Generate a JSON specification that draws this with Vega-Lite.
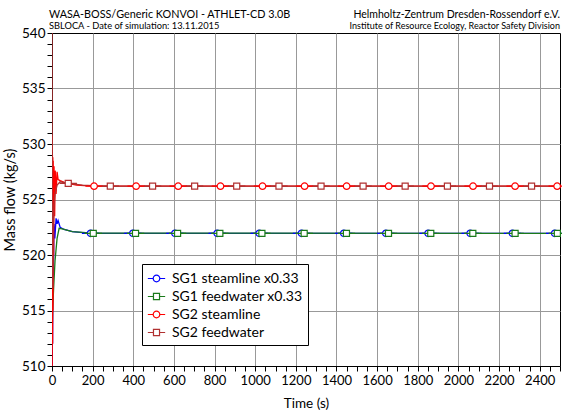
{
  "$schema": "https://vega.github.io/schema/vega-lite/v6.json",
  "width": 508,
  "height": 333,
  "autosize": {"type": "none"},
  "padding": {"left": 52, "top": 33, "right": 2, "bottom": 46},
  "datasets": {
    "lines": [
      {"s": "SG1 steamline x0.33", "t": 0, "v": 509},
      {"s": "SG1 steamline x0.33", "t": 1, "v": 515},
      {"s": "SG1 steamline x0.33", "t": 2, "v": 521},
      {"s": "SG1 steamline x0.33", "t": 3, "v": 512},
      {"s": "SG1 steamline x0.33", "t": 5, "v": 521.5},
      {"s": "SG1 steamline x0.33", "t": 7, "v": 518},
      {"s": "SG1 steamline x0.33", "t": 10, "v": 522.8},
      {"s": "SG1 steamline x0.33", "t": 14, "v": 521.5},
      {"s": "SG1 steamline x0.33", "t": 20, "v": 523.3},
      {"s": "SG1 steamline x0.33", "t": 25, "v": 522.8},
      {"s": "SG1 steamline x0.33", "t": 30, "v": 523.1},
      {"s": "SG1 steamline x0.33", "t": 40, "v": 522.5},
      {"s": "SG1 steamline x0.33", "t": 60, "v": 522.3},
      {"s": "SG1 steamline x0.33", "t": 100, "v": 522.1},
      {"s": "SG1 steamline x0.33", "t": 190, "v": 521.95},
      {"s": "SG1 steamline x0.33", "t": 2500, "v": 521.95},
      {"s": "SG1 feedwater x0.33", "t": 0, "v": 512},
      {"s": "SG1 feedwater x0.33", "t": 3, "v": 515},
      {"s": "SG1 feedwater x0.33", "t": 8, "v": 517},
      {"s": "SG1 feedwater x0.33", "t": 15, "v": 519.5},
      {"s": "SG1 feedwater x0.33", "t": 25, "v": 521.5},
      {"s": "SG1 feedwater x0.33", "t": 35, "v": 522.4},
      {"s": "SG1 feedwater x0.33", "t": 50, "v": 522.35},
      {"s": "SG1 feedwater x0.33", "t": 100, "v": 522.1},
      {"s": "SG1 feedwater x0.33", "t": 200, "v": 521.97},
      {"s": "SG1 feedwater x0.33", "t": 2500, "v": 521.95},
      {"s": "SG2 steamline", "t": 0, "v": 530.8},
      {"s": "SG2 steamline", "t": 1, "v": 510},
      {"s": "SG2 steamline", "t": 2, "v": 529},
      {"s": "SG2 steamline", "t": 3, "v": 512},
      {"s": "SG2 steamline", "t": 4, "v": 528.8},
      {"s": "SG2 steamline", "t": 5, "v": 515},
      {"s": "SG2 steamline", "t": 6, "v": 528.5},
      {"s": "SG2 steamline", "t": 8, "v": 520},
      {"s": "SG2 steamline", "t": 10, "v": 528},
      {"s": "SG2 steamline", "t": 13, "v": 523.5},
      {"s": "SG2 steamline", "t": 16, "v": 527.6},
      {"s": "SG2 steamline", "t": 20, "v": 525.5},
      {"s": "SG2 steamline", "t": 25, "v": 527.5},
      {"s": "SG2 steamline", "t": 30, "v": 526.8},
      {"s": "SG2 steamline", "t": 40, "v": 526.7},
      {"s": "SG2 steamline", "t": 60, "v": 526.55},
      {"s": "SG2 steamline", "t": 80, "v": 526.45},
      {"s": "SG2 steamline", "t": 120, "v": 526.3},
      {"s": "SG2 steamline", "t": 200, "v": 526.2},
      {"s": "SG2 steamline", "t": 2500, "v": 526.2},
      {"s": "SG2 feedwater", "t": 0, "v": 545},
      {"s": "SG2 feedwater", "t": 1, "v": 527},
      {"s": "SG2 feedwater", "t": 2, "v": 523},
      {"s": "SG2 feedwater", "t": 4, "v": 517},
      {"s": "SG2 feedwater", "t": 6, "v": 522},
      {"s": "SG2 feedwater", "t": 10, "v": 524.5},
      {"s": "SG2 feedwater", "t": 15, "v": 525.5},
      {"s": "SG2 feedwater", "t": 25, "v": 526.3},
      {"s": "SG2 feedwater", "t": 40, "v": 526.6},
      {"s": "SG2 feedwater", "t": 80, "v": 526.45},
      {"s": "SG2 feedwater", "t": 150, "v": 526.3},
      {"s": "SG2 feedwater", "t": 250, "v": 526.2},
      {"s": "SG2 feedwater", "t": 2500, "v": 526.2}
    ],
    "markers": [
      {"s": "SG1 steamline x0.33", "t": 190, "v": 521.95},
      {"s": "SG1 steamline x0.33", "t": 398, "v": 521.95},
      {"s": "SG1 steamline x0.33", "t": 605, "v": 521.95},
      {"s": "SG1 steamline x0.33", "t": 813, "v": 521.95},
      {"s": "SG1 steamline x0.33", "t": 1020, "v": 521.95},
      {"s": "SG1 steamline x0.33", "t": 1228, "v": 521.95},
      {"s": "SG1 steamline x0.33", "t": 1436, "v": 521.95},
      {"s": "SG1 steamline x0.33", "t": 1643, "v": 521.95},
      {"s": "SG1 steamline x0.33", "t": 1851, "v": 521.95},
      {"s": "SG1 steamline x0.33", "t": 2058, "v": 521.95},
      {"s": "SG1 steamline x0.33", "t": 2266, "v": 521.95},
      {"s": "SG1 steamline x0.33", "t": 2474, "v": 521.95},
      {"s": "SG1 feedwater x0.33", "t": 203, "v": 521.95},
      {"s": "SG1 feedwater x0.33", "t": 411, "v": 521.95},
      {"s": "SG1 feedwater x0.33", "t": 618, "v": 521.95},
      {"s": "SG1 feedwater x0.33", "t": 826, "v": 521.95},
      {"s": "SG1 feedwater x0.33", "t": 1033, "v": 521.95},
      {"s": "SG1 feedwater x0.33", "t": 1241, "v": 521.95},
      {"s": "SG1 feedwater x0.33", "t": 1449, "v": 521.95},
      {"s": "SG1 feedwater x0.33", "t": 1656, "v": 521.95},
      {"s": "SG1 feedwater x0.33", "t": 1864, "v": 521.95},
      {"s": "SG1 feedwater x0.33", "t": 2071, "v": 521.95},
      {"s": "SG1 feedwater x0.33", "t": 2279, "v": 521.95},
      {"s": "SG1 feedwater x0.33", "t": 2487, "v": 521.95},
      {"s": "SG2 steamline", "t": 207, "v": 526.2},
      {"s": "SG2 steamline", "t": 414, "v": 526.2},
      {"s": "SG2 steamline", "t": 621, "v": 526.2},
      {"s": "SG2 steamline", "t": 829, "v": 526.2},
      {"s": "SG2 steamline", "t": 1036, "v": 526.2},
      {"s": "SG2 steamline", "t": 1243, "v": 526.2},
      {"s": "SG2 steamline", "t": 1450, "v": 526.2},
      {"s": "SG2 steamline", "t": 1657, "v": 526.2},
      {"s": "SG2 steamline", "t": 1865, "v": 526.2},
      {"s": "SG2 steamline", "t": 2072, "v": 526.2},
      {"s": "SG2 steamline", "t": 2279, "v": 526.2},
      {"s": "SG2 steamline", "t": 2486, "v": 526.2},
      {"s": "SG2 feedwater", "t": 80, "v": 526.45},
      {"s": "SG2 feedwater", "t": 287, "v": 526.2},
      {"s": "SG2 feedwater", "t": 495, "v": 526.2},
      {"s": "SG2 feedwater", "t": 702, "v": 526.2},
      {"s": "SG2 feedwater", "t": 909, "v": 526.2},
      {"s": "SG2 feedwater", "t": 1117, "v": 526.2},
      {"s": "SG2 feedwater", "t": 1324, "v": 526.2},
      {"s": "SG2 feedwater", "t": 1531, "v": 526.2},
      {"s": "SG2 feedwater", "t": 1738, "v": 526.2},
      {"s": "SG2 feedwater", "t": 1946, "v": 526.2},
      {"s": "SG2 feedwater", "t": 2153, "v": 526.2},
      {"s": "SG2 feedwater", "t": 2360, "v": 526.2}
    ],
    "headerL1": [{"label": "WASA-BOSS/Generic KONVOI - ATHLET-CD 3.0B"}],
    "headerL2": [{"label": "SBLOCA - Date of simulation: 13.11.2015"}],
    "headerR1": [{"label": "Helmholtz-Zentrum Dresden-Rossendorf e.V."}],
    "headerR2": [{"label": "Institute of Resource Ecology, Reactor Safety Division"}]
  },
  "layer": [
    {
      "data": {"name": "lines"},
      "mark": {"type": "line", "strokeWidth": 1.3, "clip": true},
      "encoding": {
        "x": {
          "field": "t", "type": "quantitative", "title": "Time (s)",
          "scale": {"domain": [0, 2500], "nice": false, "zero": false},
          "axis": {
            "values": [0,50,100,150,200,250,300,350,400,450,500,550,600,650,700,750,800,850,900,950,1000,1050,1100,1150,1200,1250,1300,1350,1400,1450,1500,1550,1600,1650,1700,1750,1800,1850,1900,1950,2000,2050,2100,2150,2200,2250,2300,2350,2400,2450,2500],
            "format": "d",
            "labelExpr": "datum.value % 200 === 0 ? datum.label : ''",
            "labelOverlap": false, "labelFlush": false, "grid": true, "gridColor": "#999999",
            "gridOpacity": {"condition": {"test": "datum.value % 200 === 0 && datum.value > 0", "value": 1}, "value": 0},
            "tickSize": 5, "tickColor": "black", "domainColor": "black",
            "labelFontSize": 13, "labelPadding": 3, "titleFontSize": 13.5, "titlePadding": 9,
            "encode": {"ticks": {"y2": {"condition": {"test": "datum.value % 200 === 0", "value": -5}, "value": -3}}}
          }
        },
        "y": {
          "field": "v", "type": "quantitative", "title": "Mass flow (kg/s)",
          "scale": {"domain": [510, 540], "nice": false, "zero": false},
          "axis": {
            "values": [510,511,512,513,514,515,516,517,518,519,520,521,522,523,524,525,526,527,528,529,530,531,532,533,534,535,536,537,538,539,540],
            "labelExpr": "datum.value % 5 === 0 ? datum.label : ''",
            "grid": true, "gridColor": "#999999",
            "gridOpacity": {"condition": {"test": "datum.value % 5 === 0 && datum.value > 510 && datum.value < 540", "value": 1}, "value": 0},
            "tickSize": 5, "tickColor": "black", "domainColor": "black",
            "labelFontSize": 13.5, "labelPadding": 2, "titleFontSize": 14.5, "titlePadding": 4,
            "encode": {"ticks": {"x2": {"condition": {"test": "datum.value % 5 === 0", "value": -5}, "value": -3}}}
          }
        },
        "color": {
          "field": "s",
          "type": "nominal",
          "scale": {
            "domain": ["SG1 steamline x0.33", "SG1 feedwater x0.33", "SG2 steamline", "SG2 feedwater"],
            "range": ["#0000ff", "#1a7a1a", "#ff0000", "#b03030"]
          },
          "legend": {
            "orient": "none", "legendX": 90, "legendY": 231, "title": null,
            "strokeColor": "black", "fillColor": "white", "padding": 5,
            "labelFontSize": 14, "labelColor": "black", "symbolSize": 300, "symbolStrokeWidth": 1.2,
            "rowPadding": 1, "labelOffset": 6, "cornerRadius": 0
          }
        }
      }
    },
    {
      "data": {"name": "markers"},
      "mark": {"type": "point", "filled": false, "fill": "white", "size": 300, "strokeWidth": 1.2, "opacity": 1},
      "encoding": {
        "x": {
          "field": "t", "type": "quantitative", "title": "Time (s)",
          "scale": {"domain": [0, 2500], "nice": false, "zero": false},
          "axis": {
            "values": [0,50,100,150,200,250,300,350,400,450,500,550,600,650,700,750,800,850,900,950,1000,1050,1100,1150,1200,1250,1300,1350,1400,1450,1500,1550,1600,1650,1700,1750,1800,1850,1900,1950,2000,2050,2100,2150,2200,2250,2300,2350,2400,2450,2500],
            "format": "d",
            "labelExpr": "datum.value % 200 === 0 ? datum.label : ''",
            "labelOverlap": false, "labelFlush": false, "grid": true, "gridColor": "#999999",
            "gridOpacity": {"condition": {"test": "datum.value % 200 === 0 && datum.value > 0", "value": 1}, "value": 0},
            "tickSize": 5, "tickColor": "black", "domainColor": "black",
            "labelFontSize": 13, "labelPadding": 3, "titleFontSize": 13.5, "titlePadding": 9,
            "encode": {"ticks": {"y2": {"condition": {"test": "datum.value % 200 === 0", "value": -5}, "value": -3}}}
          }
        },
        "y": {
          "field": "v", "type": "quantitative", "title": "Mass flow (kg/s)",
          "scale": {"domain": [510, 540], "nice": false, "zero": false},
          "axis": {
            "values": [510,511,512,513,514,515,516,517,518,519,520,521,522,523,524,525,526,527,528,529,530,531,532,533,534,535,536,537,538,539,540],
            "labelExpr": "datum.value % 5 === 0 ? datum.label : ''",
            "grid": true, "gridColor": "#999999",
            "gridOpacity": {"condition": {"test": "datum.value % 5 === 0 && datum.value > 510 && datum.value < 540", "value": 1}, "value": 0},
            "tickSize": 5, "tickColor": "black", "domainColor": "black",
            "labelFontSize": 13.5, "labelPadding": 2, "titleFontSize": 14.5, "titlePadding": 4,
            "encode": {"ticks": {"x2": {"condition": {"test": "datum.value % 5 === 0", "value": -5}, "value": -3}}}
          }
        },
        "color": {"field": "s", "type": "nominal", "legend": null},
        "shape": {
          "field": "s",
          "type": "nominal",
          "scale": {
            "domain": ["SG1 steamline x0.33", "SG1 feedwater x0.33", "SG2 steamline", "SG2 feedwater"],
            "range": [
              "M-1,0H-0.38M0.38,0H1M-0.38,0A0.38,0.38,0,1,0,0.38,0A0.38,0.38,0,1,0,-0.38,0Z",
              "M-1,0H-0.35M0.35,0H1M-0.35,-0.35H0.35V0.35H-0.35Z",
              "M-1,0H-0.38M0.38,0H1M-0.38,0A0.38,0.38,0,1,0,0.38,0A0.38,0.38,0,1,0,-0.38,0Z",
              "M-1,0H-0.35M0.35,0H1M-0.35,-0.35H0.35V0.35H-0.35Z"
            ]
          },
          "legend": null
        }
      }
    },
    {
      "data": {"name": "headerL1"},
      "mark": {"type": "text", "align": "left", "baseline": "middle", "fontSize": 10.8, "font": "Lato", "fill": "black", "clip": false},
      "encoding": {
        "x": {
          "datum": -15, "type": "quantitative", "title": "Time (s)",
          "scale": {"domain": [0, 2500], "nice": false, "zero": false},
          "axis": {
            "values": [0,50,100,150,200,250,300,350,400,450,500,550,600,650,700,750,800,850,900,950,1000,1050,1100,1150,1200,1250,1300,1350,1400,1450,1500,1550,1600,1650,1700,1750,1800,1850,1900,1950,2000,2050,2100,2150,2200,2250,2300,2350,2400,2450,2500],
            "format": "d",
            "labelExpr": "datum.value % 200 === 0 ? datum.label : ''",
            "labelOverlap": false, "labelFlush": false, "grid": true, "gridColor": "#999999",
            "gridOpacity": {"condition": {"test": "datum.value % 200 === 0 && datum.value > 0", "value": 1}, "value": 0},
            "tickSize": 5, "tickColor": "black", "domainColor": "black",
            "labelFontSize": 13, "labelPadding": 3, "titleFontSize": 13.5, "titlePadding": 9,
            "encode": {"ticks": {"y2": {"condition": {"test": "datum.value % 200 === 0", "value": -5}, "value": -3}}}
          }
        },
        "y": {
          "datum": 541.6, "type": "quantitative", "title": "Mass flow (kg/s)",
          "scale": {"domain": [510, 540], "nice": false, "zero": false},
          "axis": {
            "values": [510,511,512,513,514,515,516,517,518,519,520,521,522,523,524,525,526,527,528,529,530,531,532,533,534,535,536,537,538,539,540],
            "labelExpr": "datum.value % 5 === 0 ? datum.label : ''",
            "grid": true, "gridColor": "#999999",
            "gridOpacity": {"condition": {"test": "datum.value % 5 === 0 && datum.value > 510 && datum.value < 540", "value": 1}, "value": 0},
            "tickSize": 5, "tickColor": "black", "domainColor": "black",
            "labelFontSize": 13.5, "labelPadding": 2, "titleFontSize": 14.5, "titlePadding": 4,
            "encode": {"ticks": {"x2": {"condition": {"test": "datum.value % 5 === 0", "value": -5}, "value": -3}}}
          }
        },
        "text": {"field": "label"}
      }
    },
    {
      "data": {"name": "headerL2"},
      "mark": {"type": "text", "align": "left", "baseline": "middle", "fontSize": 9.3, "font": "Lato", "fill": "black", "clip": false},
      "encoding": {
        "x": {
          "datum": -15, "type": "quantitative", "title": "Time (s)",
          "scale": {"domain": [0, 2500], "nice": false, "zero": false},
          "axis": {
            "values": [0,50,100,150,200,250,300,350,400,450,500,550,600,650,700,750,800,850,900,950,1000,1050,1100,1150,1200,1250,1300,1350,1400,1450,1500,1550,1600,1650,1700,1750,1800,1850,1900,1950,2000,2050,2100,2150,2200,2250,2300,2350,2400,2450,2500],
            "format": "d",
            "labelExpr": "datum.value % 200 === 0 ? datum.label : ''",
            "labelOverlap": false, "labelFlush": false, "grid": true, "gridColor": "#999999",
            "gridOpacity": {"condition": {"test": "datum.value % 200 === 0 && datum.value > 0", "value": 1}, "value": 0},
            "tickSize": 5, "tickColor": "black", "domainColor": "black",
            "labelFontSize": 13, "labelPadding": 3, "titleFontSize": 13.5, "titlePadding": 9,
            "encode": {"ticks": {"y2": {"condition": {"test": "datum.value % 200 === 0", "value": -5}, "value": -3}}}
          }
        },
        "y": {
          "datum": 540.6, "type": "quantitative", "title": "Mass flow (kg/s)",
          "scale": {"domain": [510, 540], "nice": false, "zero": false},
          "axis": {
            "values": [510,511,512,513,514,515,516,517,518,519,520,521,522,523,524,525,526,527,528,529,530,531,532,533,534,535,536,537,538,539,540],
            "labelExpr": "datum.value % 5 === 0 ? datum.label : ''",
            "grid": true, "gridColor": "#999999",
            "gridOpacity": {"condition": {"test": "datum.value % 5 === 0 && datum.value > 510 && datum.value < 540", "value": 1}, "value": 0},
            "tickSize": 5, "tickColor": "black", "domainColor": "black",
            "labelFontSize": 13.5, "labelPadding": 2, "titleFontSize": 14.5, "titlePadding": 4,
            "encode": {"ticks": {"x2": {"condition": {"test": "datum.value % 5 === 0", "value": -5}, "value": -3}}}
          }
        },
        "text": {"field": "label"}
      }
    },
    {
      "data": {"name": "headerR1"},
      "mark": {"type": "text", "align": "right", "baseline": "middle", "fontSize": 10.5, "font": "Lato", "fill": "black", "clip": false},
      "encoding": {
        "x": {
          "datum": 2500, "type": "quantitative", "title": "Time (s)",
          "scale": {"domain": [0, 2500], "nice": false, "zero": false},
          "axis": {
            "values": [0,50,100,150,200,250,300,350,400,450,500,550,600,650,700,750,800,850,900,950,1000,1050,1100,1150,1200,1250,1300,1350,1400,1450,1500,1550,1600,1650,1700,1750,1800,1850,1900,1950,2000,2050,2100,2150,2200,2250,2300,2350,2400,2450,2500],
            "format": "d",
            "labelExpr": "datum.value % 200 === 0 ? datum.label : ''",
            "labelOverlap": false, "labelFlush": false, "grid": true, "gridColor": "#999999",
            "gridOpacity": {"condition": {"test": "datum.value % 200 === 0 && datum.value > 0", "value": 1}, "value": 0},
            "tickSize": 5, "tickColor": "black", "domainColor": "black",
            "labelFontSize": 13, "labelPadding": 3, "titleFontSize": 13.5, "titlePadding": 9,
            "encode": {"ticks": {"y2": {"condition": {"test": "datum.value % 200 === 0", "value": -5}, "value": -3}}}
          }
        },
        "y": {
          "datum": 541.6, "type": "quantitative", "title": "Mass flow (kg/s)",
          "scale": {"domain": [510, 540], "nice": false, "zero": false},
          "axis": {
            "values": [510,511,512,513,514,515,516,517,518,519,520,521,522,523,524,525,526,527,528,529,530,531,532,533,534,535,536,537,538,539,540],
            "labelExpr": "datum.value % 5 === 0 ? datum.label : ''",
            "grid": true, "gridColor": "#999999",
            "gridOpacity": {"condition": {"test": "datum.value % 5 === 0 && datum.value > 510 && datum.value < 540", "value": 1}, "value": 0},
            "tickSize": 5, "tickColor": "black", "domainColor": "black",
            "labelFontSize": 13.5, "labelPadding": 2, "titleFontSize": 14.5, "titlePadding": 4,
            "encode": {"ticks": {"x2": {"condition": {"test": "datum.value % 5 === 0", "value": -5}, "value": -3}}}
          }
        },
        "text": {"field": "label"}
      }
    },
    {
      "data": {"name": "headerR2"},
      "mark": {"type": "text", "align": "right", "baseline": "middle", "fontSize": 9, "font": "Lato", "fill": "black", "clip": false},
      "encoding": {
        "x": {
          "datum": 2500, "type": "quantitative", "title": "Time (s)",
          "scale": {"domain": [0, 2500], "nice": false, "zero": false},
          "axis": {
            "values": [0,50,100,150,200,250,300,350,400,450,500,550,600,650,700,750,800,850,900,950,1000,1050,1100,1150,1200,1250,1300,1350,1400,1450,1500,1550,1600,1650,1700,1750,1800,1850,1900,1950,2000,2050,2100,2150,2200,2250,2300,2350,2400,2450,2500],
            "format": "d",
            "labelExpr": "datum.value % 200 === 0 ? datum.label : ''",
            "labelOverlap": false, "labelFlush": false, "grid": true, "gridColor": "#999999",
            "gridOpacity": {"condition": {"test": "datum.value % 200 === 0 && datum.value > 0", "value": 1}, "value": 0},
            "tickSize": 5, "tickColor": "black", "domainColor": "black",
            "labelFontSize": 13, "labelPadding": 3, "titleFontSize": 13.5, "titlePadding": 9,
            "encode": {"ticks": {"y2": {"condition": {"test": "datum.value % 200 === 0", "value": -5}, "value": -3}}}
          }
        },
        "y": {
          "datum": 540.6, "type": "quantitative", "title": "Mass flow (kg/s)",
          "scale": {"domain": [510, 540], "nice": false, "zero": false},
          "axis": {
            "values": [510,511,512,513,514,515,516,517,518,519,520,521,522,523,524,525,526,527,528,529,530,531,532,533,534,535,536,537,538,539,540],
            "labelExpr": "datum.value % 5 === 0 ? datum.label : ''",
            "grid": true, "gridColor": "#999999",
            "gridOpacity": {"condition": {"test": "datum.value % 5 === 0 && datum.value > 510 && datum.value < 540", "value": 1}, "value": 0},
            "tickSize": 5, "tickColor": "black", "domainColor": "black",
            "labelFontSize": 13.5, "labelPadding": 2, "titleFontSize": 14.5, "titlePadding": 4,
            "encode": {"ticks": {"x2": {"condition": {"test": "datum.value % 5 === 0", "value": -5}, "value": -3}}}
          }
        },
        "text": {"field": "label"}
      }
    }
  ],
  "config": {
    "font": "Lato",
    "view": {"stroke": "black", "strokeWidth": 1},
    "axis": {"labelColor": "black", "titleColor": "black", "titleFontWeight": "normal", "labelFont": "Lato", "titleFont": "Lato"}
  }
}
